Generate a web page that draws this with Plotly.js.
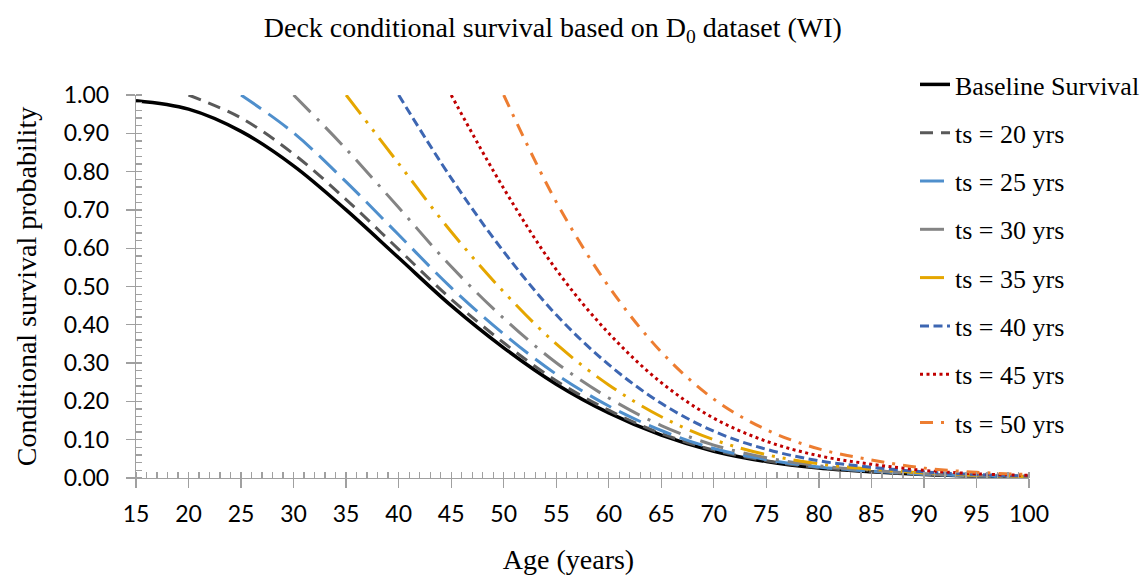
<!DOCTYPE html>
<html>
<head>
<meta charset="utf-8">
<script src="https://cdn.plot.ly/plotly-3.0.1.min.js"></script>
<style>html,body{margin:0;padding:0;background:#fff;}#chart{width:1147px;height:579px;}</style>
</head>
<body>
<div id="chart"></div>
<script>
// Ages (years) at which values were read
const ages = [15,20,25,30,35,40,45,50,55,60,65,70,75,80,85,90,95,100];
// Baseline survival (starts at age 15)
const baseline = [0.985,0.963,0.905,0.815,0.700,0.575,0.450,0.340,0.245,0.170,0.112,0.070,0.043,0.026,0.016,0.009,0.005,0.003];
// Conditional survival curves, each starting at its own ts
const ts20 = [1.000,0.940,0.846,0.727,0.597,0.467,0.353,0.254,0.177,0.116,0.073,0.045,0.027,0.017,0.009,0.005,0.003];
const ts25 = [1.000,0.901,0.773,0.635,0.497,0.376,0.271,0.188,0.124,0.077,0.048,0.029,0.018,0.010,0.006,0.003];
const ts30 = [1.000,0.859,0.706,0.552,0.417,0.301,0.209,0.137,0.086,0.053,0.032,0.020,0.011,0.006,0.004];
const ts35 = [1.000,0.821,0.643,0.486,0.350,0.243,0.160,0.100,0.061,0.037,0.023,0.013,0.007,0.004];
const ts40 = [1.000,0.783,0.591,0.426,0.296,0.195,0.122,0.075,0.045,0.028,0.016,0.009,0.005];
const ts45 = [1.000,0.756,0.544,0.378,0.249,0.156,0.096,0.058,0.036,0.020,0.011,0.007];
const ts50 = [1.000,0.721,0.500,0.329,0.206,0.126,0.076,0.047,0.026,0.015,0.009];
const tsStart = [20,25,30,35,40,45,50];
const seriesNames = ['Baseline Survival','ts = 20 yrs','ts = 25 yrs','ts = 30 yrs','ts = 35 yrs','ts = 40 yrs','ts = 45 yrs','ts = 50 yrs'];

const styles = [
  {color:'#000000', width:3.5, dash:'solid'},
  {color:'#595959', width:3, dash:'13px,8px'},
  {color:'#4F8FCC', width:3, dash:'24px,9px'},
  {color:'#848484', width:3, dash:'24px,9px,3px,9px'},
  {color:'#E5A600', width:3, dash:'24px,8px,3px,8px,3px,8px'},
  {color:'#3D66B2', width:3, dash:'9px,4.5px'},
  {color:'#C00000', width:3, dash:'3px,3.5px'},
  {color:'#ED7D31', width:3, dash:'13px,8px,3px,8px'}
];

const allY = [baseline, ts20, ts25, ts30, ts35, ts40, ts45, ts50];
const traces = allY.map(function(yv, i){
  const start = i === 0 ? 15 : tsStart[i-1];
  const idx = ages.indexOf(start);
  return {
    type:'scatter', mode:'lines',
    x: ages.slice(idx, idx + yv.length),
    y: yv,
    name: seriesNames[i],
    legendgroup: 'g' + i,
    line: {color: styles[i].color, width: styles[i].width, dash: styles[i].dash, shape:'spline', smoothing:1},
    hoverinfo:'x+y+name'
  };
});

const axisGray = '#a0a0a0';
const layout = {
  width:1147, height:579,
  margin:{l:136, r:118, t:95, b:101, pad:0, autoexpand:false},
  paper_bgcolor:'#ffffff', plot_bgcolor:'#ffffff',
  showlegend:true,
  title:{
    text:'Deck conditional survival based on D<sub>0</sub> dataset (WI)',
    font:{family:'Liberation Serif', size:28, color:'#000'},
    xref:'container', x:0.482, xanchor:'center',
    yref:'container', y:0.953, yanchor:'middle'
  },
  xaxis:{
    range:[15,100], tick0:15, dtick:5,
    ticks:'outside', ticklen:9, tickwidth:1.3, tickcolor:axisGray,
    showline:true, linecolor:axisGray, linewidth:1.3,
    showgrid:false, zeroline:false,
    tickfont:{family:'Lato', size:23, color:'#000'},
    ticklabelstandoff:6,
    minor:{tick0:15, dtick:1, ticks:'inside', ticklen:6, tickwidth:1.3, tickcolor:axisGray, showgrid:false},
    title:{text:'Age (years)&nbsp;&nbsp;&nbsp;&nbsp;', font:{family:'Liberation Serif', size:28, color:'#000'}, standoff:23}
  },
  yaxis:{
    range:[0,1], tick0:0, dtick:0.1, tickformat:'.2f',
    ticks:'outside', ticklen:9, tickwidth:1.3, tickcolor:axisGray,
    showline:true, linecolor:axisGray, linewidth:1.3,
    showgrid:false, zeroline:false,
    tickfont:{family:'Lato', size:23, color:'#000'},
    ticklabelstandoff:12,
    minor:{tick0:0, dtick:0.02, ticks:'inside', ticklen:6, tickwidth:1.3, tickcolor:axisGray, showgrid:false},
    title:{text:'Conditional survival probability', font:{family:'Liberation Serif', size:28, color:'#000'}, standoff:18}
  },
  xaxis2:{overlaying:'x', anchor:'y', side:'bottom', range:[15,100], tick0:15, dtick:5,
    ticks:'inside', ticklen:6, tickwidth:1.3, tickcolor:axisGray, showticklabels:false,
    showline:false, showgrid:false, zeroline:false},
  yaxis2:{overlaying:'y', anchor:'x', side:'left', range:[0,1], tick0:0, dtick:0.1,
    ticks:'inside', ticklen:6, tickwidth:1.3, tickcolor:axisGray, showticklabels:false,
    showline:false, showgrid:false, zeroline:false},
  legend:{
    xref:'container', yref:'container',
    x:915/1147, y:1-61/579, xanchor:'left', yanchor:'top',
    font:{family:'Liberation Serif', size:26, color:'#000'},
    bgcolor:'rgba(0,0,0,0)', borderwidth:0,
    tracegroupgap:11.5, itemwidth:30, maxheight:579
  }
};

Plotly.newPlot('chart', traces, layout, {displayModeBar:false, staticPlot:true});
</script>
</body>
</html>
